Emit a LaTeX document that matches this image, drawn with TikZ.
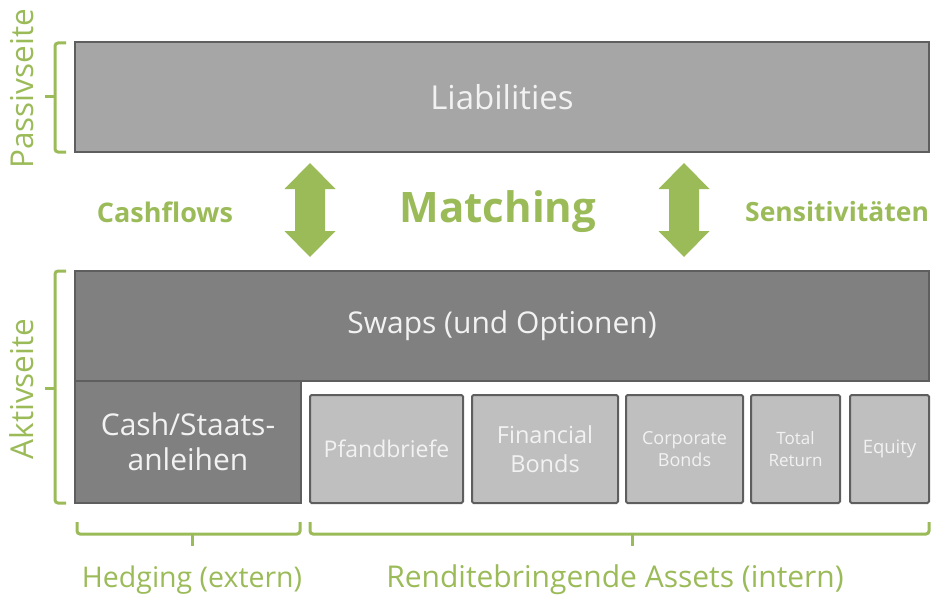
\documentclass[tikz,border=0pt]{standalone}
\usepackage{fontspec}
\setmainfont{Open Sans}
\usepackage{tikz}
\definecolor{alm green}{HTML}{9BBB59}
\definecolor{box line}{HTML}{5E5E5E}
\tikzset{
  box/.style={draw=box line, line width=2, text=white!95!black, align=center, inner sep=0},
  liabbox/.style={box, fill=black!35},
  hedgebox/.style={box, fill=black!50},
  assetbox/.style={box, fill=black!25, rounded corners=1.5},
  bracket/.style={draw=alm green, line width=3, rounded corners=3},
  glabel/.style={text=alm green, inner sep=0},
}
\newcommand{\fs}[1]{\fontsize{#1}{\fpeval{1.25*#1}}\selectfont}

\begin{document}
\begin{tikzpicture}[x=1pt,y=-1pt]
\useasboundingbox (0,0) rectangle (931,599);
\node[liabbox, minimum width=854, minimum height=110, font=\fs{33}] (liab) at (502,97) {Liabilities};
\node[hedgebox, minimum width=854, minimum height=110, font=\fs{30}] (swaps) at (502,326) {Swaps (und Optionen)};
\node[hedgebox, minimum width=226, minimum height=122, font={\fontsize{30}{35}\selectfont}] (cash) at (188,442) {Cash/Staats-\\anleihen};
\foreach \name/\xa/\xb/\size/\txt in {pfand/310/463/23/Pfandbriefe, fin/472/618/23.5/{Financial\\Bonds},
    corp/626/743/18/{Corporate\\Bonds}, total/751/840/17/{Total\\Return}, equity/850/929/18.5/Equity}
{   \node[assetbox, minimum width=\xb-\xa, minimum height=108, font=\fs{\size}] (\name) at ({(\xa+\xb)/2},449) {\txt};
}
\foreach \x in {310,684}
{   \fill[alm green] (\x,163) -- (\x+25.5,189) -- (\x+15,189) -- (\x+15,231) -- (\x+25.5,231) -- (\x,257)
      -- (\x-25.5,231) -- (\x-15,231) -- (\x-15,189) -- (\x-25.5,189) -- cycle;
}
\node[glabel, font=\bfseries\fs{27}] (cashflows) at (165,212) {Cashflows};
\node[glabel, font=\bfseries\fs{42}] (matching) at (498,212) {Matching};
\node[glabel, font=\bfseries\fs{26.5}, anchor=west] (sensi) at (745,212) {Sensitivitäten};
\node[glabel, font=\fs{31.5}, rotate=90] (passiv) at (22,89) {Passivseite};
\node[glabel, font=\fs{31.5}, rotate=90] (aktiv) at (22,389) {Aktivseite};
\node[glabel, font=\fs{28.5}] (hedging) at (192,580) {Hedging (extern)};
\node[glabel, font=\fs{30}] (rendite) at (615,580) {Renditebringende Assets (intern)};
\draw[bracket] (66,43) -- (55,43) -- (55,152) -- (66,152);
\draw[bracket] (55,97) -- (45,97);
\draw[bracket] (66,271) -- (55,271) -- (55,503) -- (66,503);
\draw[bracket] (55,388) -- (45,388);
\draw[bracket] (77,522) -- (77,534) -- (300,534) -- (300,522);
\draw[bracket] (192,534) -- (192,546);
\draw[bracket] (310,522) -- (310,534) -- (929,534) -- (929,522);
\draw[bracket] (632,534) -- (632,546);
\end{tikzpicture}
\end{document}
